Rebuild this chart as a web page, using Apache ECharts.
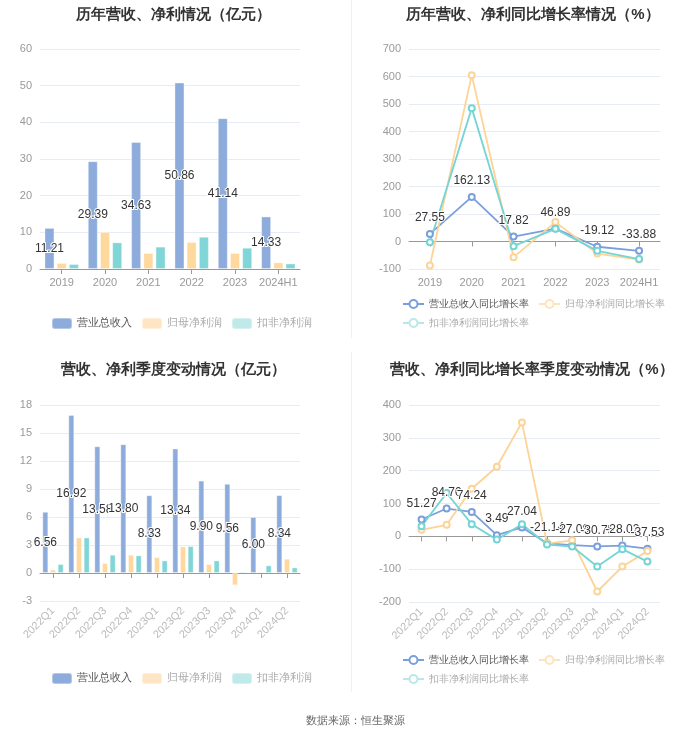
<!DOCTYPE html>
<html>
<head>
<meta charset="utf-8">
<script src="https://cdn.jsdelivr.net/npm/echarts@6/dist/echarts.min.js"></script>
<style>html,body{margin:0;padding:0;background:#fff;}#c{width:700px;height:734px;}</style>
</head>
<body>
<div id="c"></div>
<script>
// ---- data ----
const yearCats = ['2019', '2020', '2021', '2022', '2023', '2024H1'];
const yearRevenue = [11.21, 29.39, 34.63, 50.86, 41.14, 14.33];
const yearNetProfit = [1.64, 10.1, 4.36, 7.36, 4.36, 1.8];
const yearDeductProfit = [1.36, 7.27, 6.1, 8.8, 5.8, 1.5];

const yearRevenueGrowth = [27.55, 162.13, 17.82, 46.89, -19.12, -33.88];
const yearNetGrowth = [-87.5, 605, -57, 70.5, -43.7, -65.6];
const yearDeductGrowth = [-2.4, 485, -17, 46, -34, -64];

const quarterCats = ['2022Q1', '2022Q2', '2022Q3', '2022Q4', '2023Q1', '2023Q2', '2023Q3', '2023Q4', '2024Q1', '2024Q2'];
const quarterRevenue = [6.56, 16.92, 13.58, 13.80, 8.33, 13.34, 9.90, 9.56, 6.00, 8.34];
const quarterNetProfit = [0.36, 3.81, 1.07, 1.96, 1.71, 2.85, 0.96, -1.32, 0.14, 1.53];
const quarterDeductProfit = [0.96, 3.81, 1.96, 1.89, 1.35, 2.88, 1.35, 0.14, 0.82, 0.6];

const quarterRevenueGrowth = [51.27, 84.70, 74.24, 3.49, 27.04, -21.14, -27.08, -30.75, -28.02, -37.53];
const quarterNetGrowth = [20, 35, 145, 212, 347, -22, -12, -168, -92, -45];
const quarterDeductGrowth = [31, 132, 37, -10, 37, -25, -31, -92, -39, -77];

const seriesNames = ['营业总收入', '归母净利润', '扣非净利润'];
const growthNames = ['营业总收入同比增长率', '归母净利润同比增长率', '扣非净利润同比增长率'];

// ---- style ----
const cBlue = '#8dacdc', cOrange = '#fed89d', cTeal = '#80d5d6';
const lBlue = '#7b9fdc', lOrange = '#fdd396', lTeal = '#76d4d4';
const labelStyle = { color: '#333', fontSize: 12, textBorderColor: '#fff', textBorderWidth: 2 };
const axisLabel = { color: '#999', fontSize: 11 };
const splitLine = { show: true, lineStyle: { color: '#e6ebf5' } };

function xAxis(idx, cats, rotate) {
  return {
    type: 'category', gridIndex: idx, data: cats,
    axisLine: { onZero: true, lineStyle: { color: '#999' } },
    axisTick: { show: true, alignWithLabel: true, lineStyle: { color: '#999' } },
    axisLabel: Object.assign({ interval: 0, rotate: rotate || 0, margin: 8 }, axisLabel, rotate ? { color: '#bbb' } : {})
  };
}
function yAxis(idx, min, max, interval) {
  return {
    type: 'value', gridIndex: idx, min: min, max: max, interval: interval,
    axisLine: { show: false }, axisTick: { show: false },
    axisLabel: axisLabel, splitLine: splitLine
  };
}
function bar(name, data, idx, color, width, gap, withLabel) {
  return {
    type: 'bar', name: name, data: data, xAxisIndex: idx, yAxisIndex: idx,
    barWidth: width, barGap: gap,
    itemStyle: { color: color, borderColor: 'rgba(255,255,255,0.35)', borderWidth: 1 },
    label: withLabel ? Object.assign({ show: true, position: 'inside', formatter: p => p.value.toFixed(2) }, labelStyle) : { show: false }
  };
}
function line(name, data, idx, color, withLabel) {
  return {
    type: 'line', name: name, data: data, xAxisIndex: idx, yAxisIndex: idx,
    symbol: 'emptyCircle', symbolSize: 6,
    lineStyle: { color: color, width: 1.8 }, itemStyle: { color: color },
    label: withLabel ? Object.assign({ show: true, position: 'top', distance: 6, formatter: p => p.value.toFixed(2) }, labelStyle) : { show: false }
  };
}
function barLegend(top) {
  return {
    top: top, left: 46, itemWidth: 20, itemHeight: 11, itemGap: 9,
    textStyle: { fontSize: 10.5, color: '#555' },
    data: [
      { name: seriesNames[0], itemStyle: { color: cBlue }, textStyle: { color: '#555' } },
      { name: seriesNames[1], itemStyle: { color: '#fee6c4' }, textStyle: { color: '#aaa' } },
      { name: seriesNames[2], itemStyle: { color: '#c0eaea' }, textStyle: { color: '#aaa' } }
    ]
  };
}
function lineLegend(top) {
  return {
    top: top, left: 397, width: 275, itemWidth: 21, itemHeight: 10, itemGap: 9,
    textStyle: { fontSize: 10, color: '#555', lineHeight: 10 },
    data: [
      { name: growthNames[0], textStyle: { color: '#555' } },
      { name: growthNames[1], itemStyle: { color: '#fee3bd' }, lineStyle: { color: '#fee3bd' }, textStyle: { color: '#aaa' } },
      { name: growthNames[2], itemStyle: { color: '#b8e8e8' }, lineStyle: { color: '#b8e8e8' }, textStyle: { color: '#aaa' } }
    ]
  };
}
const titleStyle = { fontSize: 15, fontWeight: 'bold', color: '#333' };

const chart = echarts.init(document.getElementById('c'));
chart.setOption({
  backgroundColor: '#fff',
  animation: false,
  title: [
    { text: '历年营收、净利情况（亿元）', left: 168, top: 2, textAlign: 'center', textStyle: titleStyle },
    { text: '历年营收、净利同比增长率情况（%）', left: 528, top: 2, textAlign: 'center', textStyle: titleStyle },
    { text: '营收、净利季度变动情况（亿元）', left: 168, top: 357, textAlign: 'center', textStyle: titleStyle },
    { text: '营收、净利同比增长率季度变动情况（%）', left: 527, top: 357, textAlign: 'center', textStyle: titleStyle },
    { text: '数据来源：恒生聚源', left: 350, top: 710, textAlign: 'center', textStyle: { fontSize: 11, fontWeight: 'normal', color: '#666' } }
  ],
  legend: [
    barLegend(312),
    lineLegend(294),
    barLegend(667),
    lineLegend(650)
  ],
  grid: [
    { left: 40, right: 400, top: 49, bottom: 465 },
    { left: 409, right: 40, top: 49, bottom: 465 },
    { left: 40, right: 400, top: 405, bottom: 133 },
    { left: 409, right: 40, top: 405, bottom: 132 }
  ],
  xAxis: [
    xAxis(0, yearCats), xAxis(1, yearCats), xAxis(2, quarterCats, 45), xAxis(3, quarterCats, 45)
  ],
  yAxis: [
    yAxis(0, 0, 60, 10), yAxis(1, -100, 700, 100), yAxis(2, -3, 18, 3), yAxis(3, -200, 400, 100)
  ],
  graphic: [
    { type: 'line', shape: { x1: 351.5, y1: 0, x2: 351.5, y2: 338 }, style: { stroke: '#f0f0f0', lineWidth: 1 } },
    { type: 'line', shape: { x1: 351.5, y1: 352, x2: 351.5, y2: 692 }, style: { stroke: '#f0f0f0', lineWidth: 1 } }
  ],
  series: [
    bar(seriesNames[0], yearRevenue, 0, cBlue, 10, '22%', true),
    bar(seriesNames[1], yearNetProfit, 0, cOrange, 10, '22%', false),
    bar(seriesNames[2], yearDeductProfit, 0, cTeal, 10, '22%', false),
    line(growthNames[0], yearRevenueGrowth, 1, lBlue, true),
    line(growthNames[1], yearNetGrowth, 1, lOrange, false),
    line(growthNames[2], yearDeductGrowth, 1, lTeal, false),
    bar(seriesNames[0], quarterRevenue, 2, cBlue, 6, '28%', true),
    bar(seriesNames[1], quarterNetProfit, 2, cOrange, 6, '28%', false),
    bar(seriesNames[2], quarterDeductProfit, 2, cTeal, 6, '28%', false),
    line(growthNames[0], quarterRevenueGrowth, 3, lBlue, true),
    line(growthNames[1], quarterNetGrowth, 3, lOrange, false),
    line(growthNames[2], quarterDeductGrowth, 3, lTeal, false)
  ]
});
</script>
</body>
</html>
